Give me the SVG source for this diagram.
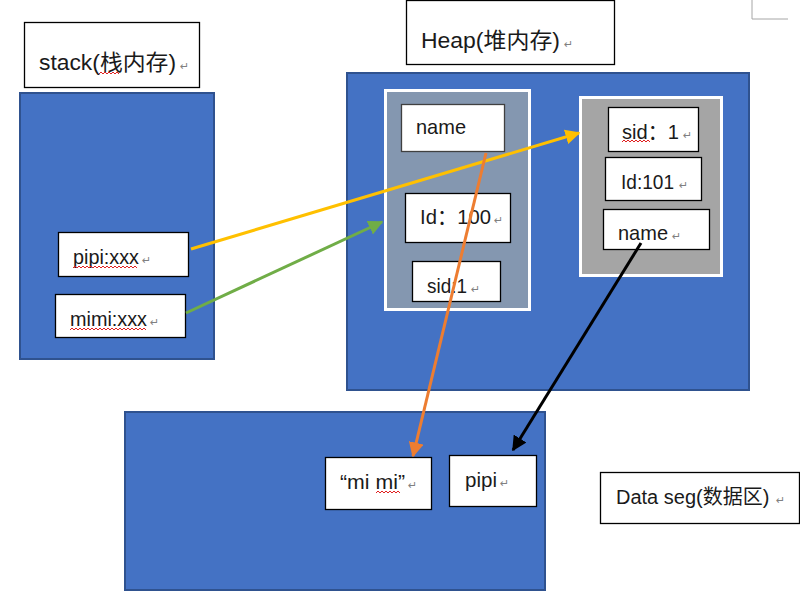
<svg xmlns="http://www.w3.org/2000/svg" width="800" height="613" viewBox="0 0 800 613">
<style>
.t{font-family:"Liberation Sans","Noto Sans CJK SC",sans-serif;font-size:21px;fill:#1a1a1a}
.c{font-size:22px}
.s20{font-size:20px}
.lbl{fill:#fff;stroke:#000;stroke-width:1.3}
.blue{fill:#4472C4;stroke:#2F528F;stroke-width:2}
.wb{fill:#fff;stroke:#000;stroke-width:1.3}
.rm{font-family:"DejaVu Sans",sans-serif;font-size:11px;fill:#808080}
.sq{fill:none;stroke:#e02020;stroke-width:1}
</style>
<defs>
<marker id="ay" viewBox="0 0 10 10" refX="9" refY="5" markerWidth="5" markerHeight="5" orient="auto" markerUnits="strokeWidth"><path d="M0,0 L10,5 L0,10 z" fill="#FFC000"/></marker>
<marker id="ag" viewBox="0 0 10 10" refX="9" refY="5" markerWidth="5" markerHeight="5" orient="auto" markerUnits="strokeWidth"><path d="M0,0 L10,5 L0,10 z" fill="#70AD47"/></marker>
<marker id="ao" viewBox="0 0 10 10" refX="9" refY="5" markerWidth="5" markerHeight="5" orient="auto" markerUnits="strokeWidth"><path d="M0,0 L10,5 L0,10 z" fill="#ED7D31"/></marker>
<marker id="ak" viewBox="0 0 10 10" refX="9" refY="5" markerWidth="5" markerHeight="5" orient="auto" markerUnits="strokeWidth"><path d="M0,0 L10,5 L0,10 z" fill="#000"/></marker>
</defs>
<rect width="800" height="613" fill="#fff"/>
<path d="M752,0 V19 H788" fill="none" stroke="#a6a6a6" stroke-width="1"/>

<g id="stack-label">
<rect class="lbl" x="24.5" y="22.5" width="175" height="65"/>
<text class="t c" x="39" y="70"><tspan textLength="137" lengthAdjust="spacingAndGlyphs">stack(栈内存)</tspan><tspan class="rm" x="180">↵</tspan></text>
<path class="sq" d="M99,74 l2,-2 l2,2 l2,-2 l2,2 l2,-2 l2,2 l2,-2 l2,2 l2,-2 l2,2"/>
</g>
<g id="stack">
<rect class="blue" x="20" y="93" width="194" height="266"/>
</g>
<g id="pipi-ref">
<rect class="wb" x="58.5" y="232.5" width="130" height="44"/>
<text class="t" x="73" y="264"><tspan textLength="66" lengthAdjust="spacingAndGlyphs">pipi:xxx</tspan><tspan class="rm" x="142">↵</tspan></text>
<path class="sq" d="M73,268 l2,-2 l2,2 l2,-2 l2,2 l2,-2 l2,2 l2,-2 l2,2 l2,-2 l2,2 l2,-2 l2,2 l2,-2 l2,2 l2,-2 l2,2 l2,-2 l2,2 l2,-2 l2,2 l2,-2 l2,2 l2,-2 l2,2 l2,-2 l2,2 l2,-2 l2,2 l2,-2 l2,2 l2,-2 l2,2"/>
</g>
<g id="mimi-ref">
<rect class="wb" x="55.5" y="294.5" width="130" height="43"/>
<text class="t s20" x="70" y="326"><tspan textLength="77" lengthAdjust="spacingAndGlyphs">mimi:xxx</tspan><tspan class="rm" x="150">↵</tspan></text>
<path class="sq" d="M70,330 l2,-2 l2,2 l2,-2 l2,2 l2,-2 l2,2 l2,-2 l2,2 l2,-2 l2,2 l2,-2 l2,2 l2,-2 l2,2 l2,-2 l2,2 l2,-2 l2,2 l2,-2 l2,2 l2,-2 l2,2 l2,-2 l2,2 l2,-2 l2,2 l2,-2 l2,2 l2,-2 l2,2 l2,-2 l2,2 l2,-2 l2,2 l2,-2 l2,2 l2,-2 l2,2"/>
</g>

<g id="heap-label">
<rect class="lbl" x="406.5" y="0.5" width="208" height="64"/>
<text class="t c" x="421" y="48"><tspan textLength="139" lengthAdjust="spacingAndGlyphs">Heap(堆内存)</tspan><tspan class="rm" x="564">↵</tspan></text>
</g>
<g id="heap">
<rect class="blue" x="347" y="73" width="402" height="317"/>
</g>
<g id="obj-mimi">
<rect x="385.5" y="90.5" width="144" height="219" fill="#8497B0" stroke="#fff" stroke-width="3"/>
<g id="mimi-name"><rect x="401.5" y="104.5" width="103" height="47" fill="#fff" stroke="#404040" stroke-width="1.3"/><text class="t" x="416" y="134" textLength="50" lengthAdjust="spacingAndGlyphs">name</text></g>
<g id="mimi-id"><rect class="wb" x="405.5" y="193.5" width="105" height="49"/><text class="t" x="420" y="224"><tspan textLength="71" lengthAdjust="spacingAndGlyphs">Id：100</tspan><tspan class="rm" x="494">↵</tspan></text></g>
<g id="mimi-sid"><rect class="wb" x="412.5" y="261.5" width="88" height="40"/><text class="t" x="427" y="293"><tspan textLength="40" lengthAdjust="spacingAndGlyphs">sid:1</tspan><tspan class="rm" x="471">↵</tspan></text></g>
</g>
<g id="obj-pipi">
<rect x="580.5" y="97.5" width="141" height="178" fill="#A5A5A5" stroke="#fff" stroke-width="3"/>
<g id="pipi-sid"><rect class="wb" x="608.5" y="107.5" width="90" height="44"/><text class="t" x="622" y="139"><tspan textLength="57" lengthAdjust="spacingAndGlyphs">sid：1</tspan><tspan class="rm" x="683">↵</tspan></text>
<path class="sq" d="M622,142 l2,-2 l2,2 l2,-2 l2,2 l2,-2 l2,2 l2,-2 l2,2 l2,-2 l2,2 l2,-2 l2,2 l2,-2 l2,2"/></g>
<g id="pipi-id"><rect class="wb" x="605.5" y="157.5" width="96" height="43"/><text class="t" x="621" y="189"><tspan textLength="53" lengthAdjust="spacingAndGlyphs">Id:101</tspan><tspan class="rm" x="679">↵</tspan></text></g>
<g id="pipi-name"><rect class="wb" x="603.5" y="209.5" width="106" height="40"/><text class="t" x="618" y="240"><tspan textLength="50" lengthAdjust="spacingAndGlyphs">name</tspan><tspan class="rm" x="672">↵</tspan></text></g>
</g>

<g id="dataseg">
<rect class="blue" x="125" y="412" width="420" height="178"/>
</g>
<g id="str-mimi">
<rect class="wb" x="325.5" y="457.5" width="106" height="52"/>
<text class="t" x="340" y="489"><tspan textLength="65" lengthAdjust="spacingAndGlyphs">“mi mi”</tspan><tspan class="rm" x="408">↵</tspan></text>
<path class="sq" d="M376,493 l2,-2 l2,2 l2,-2 l2,2 l2,-2 l2,2 l2,-2 l2,2 l2,-2 l2,2 l2,-2 l2,2"/>
</g>
<g id="str-pipi">
<rect class="wb" x="449.5" y="455.5" width="87" height="51"/>
<text class="t" x="465" y="487"><tspan textLength="32" lengthAdjust="spacingAndGlyphs">pipi</tspan><tspan class="rm" x="500">↵</tspan></text>
</g>
<g id="dataseg-label">
<rect class="lbl" x="600.5" y="472.5" width="199" height="51"/>
<text class="t s20" x="616" y="504">Data seg(数据区)<tspan class="rm" x="776">↵</tspan></text>
</g>

<g id="connectors" fill="none" stroke-width="3">
<line x1="191" y1="249" x2="579" y2="133" stroke="#FFC000" marker-end="url(#ay)"/>
<line x1="186" y1="313" x2="382" y2="222" stroke="#70AD47" marker-end="url(#ag)"/>
<line x1="486" y1="153" x2="413" y2="456" stroke="#ED7D31" marker-end="url(#ao)"/>
<line x1="641" y1="243" x2="513" y2="450" stroke="#000" marker-end="url(#ak)"/>
</g>
</svg>
